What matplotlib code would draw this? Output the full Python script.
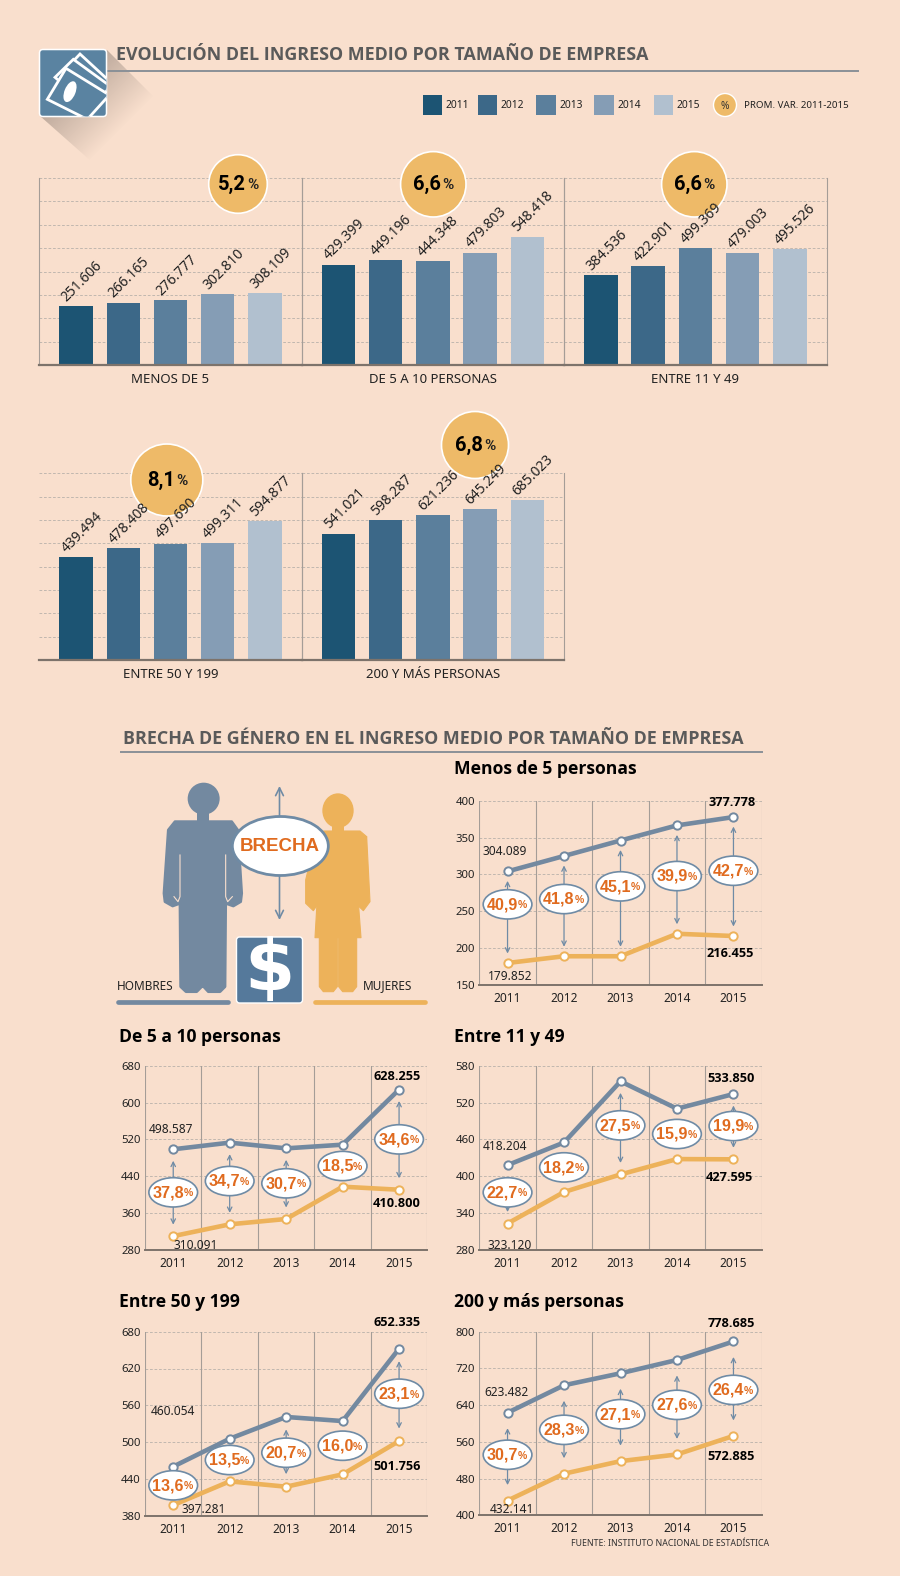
import numpy as np
import matplotlib
matplotlib.use('Agg')
from matplotlib import pyplot as plt
from matplotlib.patches import Circle, Ellipse, FancyBboxPatch, Polygon, Rectangle

W, H = 900, 1576
BG = '#f9dfcd'
BAR_COLORS = ['#1c5473', '#3c6888', '#5b7f9c', '#859db5', '#b1c0cf']
MEN = '#7389a0'
WOMEN = '#edb25a'
ORANGE = '#e06b1f'
GOLD = '#eeba68'
GRID = '#bdb4ad'
FRAME = '#a59d97'
BASE = '#7d736b'
ARROW = '#6f8ba5'
TITLE = '#5a5a5a'
SANS = ['Noto Sans', 'DejaVu Sans']
HEAD = ['Open Sans', 'DejaVu Sans']
DIGITS = ['Roboto', 'DejaVu Sans']
HEAVY = ['Liberation Sans', 'DejaVu Sans']

YEARS = ['2011', '2012', '2013', '2014', '2015']

# bar charts, thousands
bar_names = ['MENOS DE 5', 'DE 5 A 10 PERSONAS', 'ENTRE 11 Y 49', 'ENTRE 50 Y 199', '200 Y MÁS PERSONAS']
menos5 = [251.606, 266.165, 276.777, 302.810, 308.109]
de5a10 = [429.399, 449.196, 444.348, 479.803, 548.418]
de11a49 = [384.536, 422.901, 499.369, 479.003, 495.526]
de50a199 = [439.494, 478.408, 497.690, 499.311, 594.877]
mas200 = [541.021, 598.287, 621.236, 645.249, 685.023]
bar_series = [menos5, de5a10, de11a49, de50a199, mas200]
avg_var = ['5,2', '6,6', '6,6', '8,1', '6,8']

men_menos5 = [304.089, 325, 346, 366.5, 377.778]
women_menos5 = [179.852, 189, 189, 219.5, 216.455]
gap_menos5 = ['40,9', '41,8', '45,1', '39,9', '42,7']
men_5a10 = [498.587, 513, 500.6, 508.6, 628.255]
women_5a10 = [310.091, 335.7, 347.3, 417.4, 410.800]
gap_5a10 = ['37,8', '34,7', '30,7', '18,5', '34,6']
men_11a49 = [418.204, 455, 554.5, 510, 533.850]
women_11a49 = [323.120, 374.4, 403, 428, 427.595]
gap_11a49 = ['22,7', '18,2', '27,5', '15,9', '19,9']
men_50a199 = [460.054, 505.5, 541, 534.3, 652.335]
women_50a199 = [397.281, 436, 427.3, 447.4, 501.756]
gap_50a199 = ['13,6', '13,5', '20,7', '16,0', '23,1']
men_200 = [623.482, 683.3, 709.4, 738.4, 778.685]
women_200 = [432.141, 490.6, 518, 532.6, 572.885]
gap_200 = ['30,7', '28,3', '27,1', '27,6', '26,4']

ticks_menos5 = [150, 200, 250, 300, 350, 400]
ticks_5a10 = [280, 360, 440, 520, 600, 680]
ticks_11a49 = [280, 340, 400, 460, 520, 580]
ticks_50a199 = [380, 440, 500, 560, 620, 680]
ticks_200 = [400, 480, 560, 640, 720, 800]

# layout of the small multiples: name, box (left, top, right, bottom in px)
LINE_PANELS = [
    dict(name='Menos de 5 personas', title_xy=(454, 769), box=(479.3, 800.7, 761.7, 985),
         men=men_menos5, women=women_menos5, gaps=gap_menos5, ticks=ticks_menos5,
         oval_y=[259.4, 266.6, 283.8, 297.8, 305], arrows=[1, 1, 1, 1, 1], shrink=6,
         offs=[(-2.7, -20), (3, 13.3), (-1, -15), (-3.7, 17)]),
    dict(name='De 5 a 10 personas', title_xy=(119, 1037), box=(145, 1065.7, 427.3, 1250),
         men=men_5a10, women=women_5a10, gaps=gap_5a10, ticks=ticks_5a10,
         oval_y=[405.1, 429.7, 424.7, 462.3, 520.1], arrows=[1, 1, 1, 0, 1], shrink=8,
         offs=[(-2, -19.7), (22.3, 9), (-2.3, -13.3), (-2.3, 14)]),
    dict(name='Entre 11 y 49', title_xy=(454, 1037), box=(479.3, 1065.7, 761.7, 1250),
         men=men_11a49, women=women_11a49, gaps=gap_11a49, ticks=ticks_11a49,
         oval_y=[373.8, 414.5, 482.9, 468.8, 481.8], arrows=[1, 0, 1, 0, 1], shrink=8,
         offs=[(-2.7, -18.3), (2.3, 22), (-2, -15.7), (-3.7, 18.3)]),
    dict(name='Entre 50 y 199', title_xy=(119, 1302), box=(145, 1331.7, 427.3, 1515.7),
         men=men_50a199, women=women_50a199, gaps=gap_50a199, ticks=ticks_50a199,
         oval_y=[429.5, 470.8, 482.7, 494.1, 578.9], arrows=[0, 0, 1, 0, 1], shrink=9,
         offs=[(0, -55), (30, 4), (-2.3, -25.7), (-1.7, 25.3)]),
    dict(name='200 y más personas', title_xy=(454, 1302), box=(479.3, 1331.7, 761.7, 1515.3),
         men=men_200, women=women_200, gaps=gap_200, ticks=ticks_200,
         oval_y=[531.9, 586.2, 620.3, 640.6, 673.2], arrows=[1, 1, 1, 1, 1], shrink=12,
         offs=[(-1, -20.7), (4.3, 9.3), (-2, -18.3), (-2, 20.7)]),
]

BAR_BOXES = [(39.3, 178, 301.7, 365), (301.7, 178, 564, 365), (564, 178, 826.7, 365),
             (39.3, 473.3, 301.7, 660), (301.7, 473.3, 564, 660)]
BAR_LABEL_X = [170.3, 432.8, 695, 170.4, 432.8]
BAR_LABEL_Y = [379, 379, 379, 674.3, 674.3]
CIRCLES = [(238, 184, 29.3), (433.3, 184.3, 32.7), (694.3, 184.3, 32.7), (166.8, 480, 36), (475, 445, 33.5)]


def px_axes(fig, box, zorder):
    left, top, right, bottom = box
    ax = fig.add_axes([left / W, 1 - bottom / H, (right - left) / W, (bottom - top) / H], zorder=zorder)
    ax.patch.set_alpha(0)
    return ax


def hide_spines(ax):
    for s in ax.spines.values():
        s.set_visible(False)


def draw_bars(ax, values, left_frame):
    x = np.arange(5)
    ax.set_xlim(-0.78, 4.78)
    ax.set_ylim(0, 800)
    hide_spines(ax)
    ax.set_xticks([])
    ax.set_yticks(np.arange(100, 801, 100))
    ax.tick_params(left=False, labelleft=False)
    ax.grid(axis='y', color=GRID, lw=0.65, ls=(0, (3, 2)))
    ax.set_axisbelow(True)
    ax.bar(x, values, width=0.706, color=BAR_COLORS, zorder=2)
    ax.spines['bottom'].set_visible(True)
    ax.spines['bottom'].set_color(BASE)
    ax.spines['bottom'].set_linewidth(1.6)
    ax.spines['right'].set_visible(True)
    ax.spines['right'].set_color(FRAME)
    ax.spines['right'].set_linewidth(0.8)
    if left_frame:
        ax.spines['left'].set_visible(True)
        ax.spines['left'].set_color(FRAME)
        ax.spines['left'].set_linewidth(0.8)


def draw_lines(ax, p):
    x = np.arange(5)
    ticks = p['ticks']
    ax.set_xlim(-0.5, 4.5)
    ax.set_ylim(ticks[0], ticks[-1])
    hide_spines(ax)
    ax.set_xticks(x)
    ax.set_xticklabels(YEARS, fontsize=8.6, family=SANS, color='#222222')
    ax.set_yticks(ticks)
    ax.set_yticklabels([str(t) for t in ticks], fontsize=8.2, family=SANS, color='#222222')
    ax.tick_params(length=0, pad=3)
    ax.tick_params(axis='x', pad=5)
    ax.grid(axis='y', color=GRID, lw=0.65, ls=(0, (3, 2)))
    for v in [-0.5, 0.5, 1.5, 2.5, 3.5, 4.5]:
        ax.axvline(v, color=FRAME, lw=0.8, zorder=1)
    ax.set_axisbelow(True)
    ax.spines['bottom'].set_visible(True)
    ax.spines['bottom'].set_color(BASE)
    ax.spines['bottom'].set_linewidth(1.4)

    ax.plot(x, p['men'], color=MEN, lw=3.3, marker='o', ms=6, mfc='white', mew=1.4, zorder=3, clip_on=False)
    ax.plot(x, p['women'], color=WOMEN, lw=3.3, marker='o', ms=6, mfc='white', mew=1.4, zorder=3, clip_on=False)

    ox_w = 48.7 * 5 / (p['box'][2] - p['box'][0])
    ox_h = 29.3 * (ticks[-1] - ticks[0]) / (p['box'][3] - p['box'][1])
    sh = p['shrink'] * 0.72 + 2.5
    for i in x:
        if p['arrows'][i]:
            ax.annotate('', xy=(i, p['women'][i]), xytext=(i, p['men'][i]),
                        arrowprops=dict(arrowstyle='<->', color=ARROW, lw=0.9, mutation_scale=8,
                                        shrinkA=sh, shrinkB=sh), zorder=4)
        oy = p['oval_y'][i]
        ax.add_patch(Ellipse((i, oy), ox_w, ox_h, fc='white', ec=ARROW, lw=1.2, zorder=5, clip_on=False))
        ax.annotate(p['gaps'][i], xy=(i, oy), xytext=(7.6, -0.3), textcoords='offset points', ha='right',
                    va='center', family=HEAVY, weight='bold', fontsize=11.6, color=ORANGE, zorder=6)
        ax.annotate('%', xy=(i, oy), xytext=(7.6, -0.6), textcoords='offset points', ha='left',
                    va='center', family=HEAVY, weight='bold', fontsize=7.5, color=ORANGE, zorder=6)

    men0, wom0, men1, wom1 = p['offs']
    fmt = lambda v: '{:.3f}'.format(v)
    for xi, v, off, bold in [(0, p['men'][0], men0, False), (0, p['women'][0], wom0, False),
                             (4, p['men'][4], men1, True), (4, p['women'][4], wom1, True)]:
        ax.annotate(fmt(v), xy=(xi, v), xytext=(off[0] * 0.72, -off[1] * 0.72), textcoords='offset points',
                    ha='center', va='center', family=HEAD if bold else SANS, fontsize=9.2 if bold else 8.6,
                    weight='bold' if bold else 'normal', color='black' if bold else '#222222',
                    zorder=7, annotation_clip=False)
    tx, ty = p['title_xy']
    return tx, ty


def z3(points, ox=100, oy=720):
    return [(ox + a / 3, oy + b / 3) for a, b in points]


def draw_money_icon(ax):
    # long shadow fading along the diagonal
    xx, yy = np.meshgrid(np.linspace(40, 165, 160), np.linspace(45, 170, 160))
    s = xx + yy
    rgba = np.zeros(xx.shape + (4,))
    rgba[..., :3] = (0.45, 0.40, 0.37)
    rgba[..., 3] = np.clip(0.44 * (1 - (s - 156) / 95), 0, 1)
    im = ax.imshow(rgba, extent=(40, 165, 170, 45), aspect='auto', zorder=1, interpolation='bilinear')
    clip = Polygon([(107, 50), (155, 98), (92, 162), (40, 116)], transform=ax.transData, fc='none', ec='none')
    ax.add_patch(clip)
    im.set_clip_path(clip)

    box = FancyBboxPatch((39.5, 49.5), 67, 67, boxstyle='round,pad=0,rounding_size=3.5', fc='#5a83a1', ec='white',
                         lw=1.1, zorder=2)
    ax.add_patch(box)
    notes = [[(95, 100), (150, 42), (240, 125), (190, 200)],
             [(75, 112), (130, 58), (240, 138), (190, 210)],
             [(52, 178), (108, 85), (238, 165), (172, 238)]]
    for pts in notes:
        pts = [(30 + a / 3, 40 + b / 3) for a, b in pts]
        pg = Polygon(pts, closed=True, fc='#5a83a1', ec='white', lw=2.0, zorder=3, joinstyle='miter')
        ax.add_patch(pg)
        pg.set_clip_path(box)
    ax.add_patch(Ellipse((30 + 120 / 3, 40 + 155 / 3), 11, 22, angle=22, fc='white', ec='none', zorder=4))


def draw_people(ax):
    man = [(205, 330), (225, 305), (395, 305), (413, 330), (425, 520), (422, 545), (400, 558), (377, 550),
           (375, 800), (360, 815), (325, 815), (311, 800), (308, 558), (305, 800), (290, 815), (258, 815),
           (242, 800), (240, 550), (218, 558), (195, 545), (192, 520)]
    ax.add_patch(Polygon(z3(man), fc=MEN, ec=MEN, lw=2.0, joinstyle='round', zorder=2))
    ax.add_patch(Rectangle((100 + 290 / 3, 720 + 270 / 3), 38 / 3, 40 / 3, fc=MEN, ec='none', zorder=2))
    ax.add_patch(Circle((100 + 311 / 3, 720 + 236 / 3), 48 / 3, fc=MEN, ec='none', zorder=2))
    for seg in ([(240, 405), (240, 530), (234, 545), (222, 530)], [(377, 405), (377, 530), (383, 545), (397, 530)]):
        xy = np.array(z3(seg))
        ax.plot(xy[:, 0], xy[:, 1], color=BG, lw=0.8, zorder=3)

    parts = [[(650, 340), (672, 333), (780, 333), (800, 350), (770, 480), (655, 480)],
             [(665, 400), (765, 400), (770, 480), (783, 653), (645, 653), (655, 480)],
             [(650, 340), (617, 480), (617, 550), (640, 572), (652, 555), (658, 500), (668, 440)],
             [(800, 350), (810, 545), (790, 572), (772, 555), (770, 490), (762, 440)],
             [(658, 653), (712, 653), (712, 800), (700, 815), (670, 815), (658, 800)],
             [(716, 653), (770, 653), (770, 800), (758, 815), (728, 815), (716, 800)]]
    for pts in parts:
        ax.add_patch(Polygon(z3(pts), fc=WOMEN, ec=WOMEN, lw=0.8, joinstyle='round', zorder=2))
    ax.add_patch(Rectangle((100 + 695 / 3, 720 + 315 / 3), 38 / 3, 25 / 3, fc=WOMEN, ec='none', zorder=2))
    ax.add_patch(Ellipse((100 + 714 / 3, 720 + 272 / 3), 94 / 3, 104 / 3, fc=WOMEN, ec='none', zorder=2))

    # gap arrows and oval
    ax.annotate('', xy=(279.5, 786), xytext=(279.5, 920), arrowprops=dict(arrowstyle='<->', color=ARROW, lw=1.2,
                mutation_scale=14, shrinkA=0, shrinkB=0), zorder=3)
    ax.add_patch(Ellipse((100 + 541 / 3, 720 + 378 / 3), 96, 59, fc='white', ec=ARROW, lw=2.0, zorder=4))
    ax.text(100 + 539 / 3, 720 + 380 / 3, 'BRECHA', ha='center', va='center', family=HEAVY, weight='bold',
            fontsize=13.5, color=ORANGE, zorder=5)

    ax.add_patch(FancyBboxPatch((236.5, 937), 66, 66, boxstyle='round,pad=0,rounding_size=3', fc='#55799b', ec='white',
                                lw=1, zorder=3))
    ax.text(269.5, 970, '$', ha='center', va='center', family='DejaVu Sans', weight='bold', fontsize=52, color='white', zorder=4)

    ax.text(100 + 50 / 3, 720 + 798 / 3, 'HOMBRES', ha='left', va='center', family=SANS, fontsize=8.5, color='#222222', zorder=4)
    ax.text(100 + 790 / 3, 720 + 798 / 3, 'MUJERES', ha='left', va='center', family=SANS, fontsize=8.5, color='#222222', zorder=4)
    ax.plot([118, 228], [1002.3, 1002.3], color=MEN, lw=3.4, solid_capstyle='round', zorder=2)
    ax.plot([315, 425], [1002.3, 1002.3], color=WOMEN, lw=3.4, solid_capstyle='round', zorder=2)


def pct_text(ax, cx, cy, value):
    ax.text(cx + 8, cy, value, ha='right', va='center', family=DIGITS, weight='bold', fontsize=14.5, color='black', zorder=3)
    ax.text(cx + 9, cy + 1, '%', ha='left', va='center', family=DIGITS, weight='bold', fontsize=11, color='#222222', zorder=3)


def main():
    fig = plt.figure(figsize=(W / 100, H / 100), dpi=100, facecolor=BG)

    back = fig.add_axes([0, 0, 1, 1], zorder=0)
    back.set_xlim(0, W)
    back.set_ylim(H, 0)
    back.axis('off')

    top = fig.add_axes([0, 0, 1, 1], zorder=8)
    top.set_xlim(0, W)
    top.set_ylim(H, 0)
    top.axis('off')
    top.patch.set_alpha(0)

    # headings
    draw_money_icon(back)
    back.set_xlim(0, W)
    back.set_ylim(H, 0)
    back.text(116.5, 54.5, 'EVOLUCIÓN DEL INGRESO MEDIO POR TAMAÑO DE EMPRESA', ha='left', va='center',
              family=HEAD, weight='bold', fontsize=12.9, color=TITLE)
    back.plot([106, 858], [71.3, 71.3], color='#8a9097', lw=1.4, zorder=1)
    back.text(122.7, 739, 'BRECHA DE GÉNERO EN EL INGRESO MEDIO POR TAMAÑO DE EMPRESA', ha='left', va='center',
              family=HEAD, weight='bold', fontsize=12.9, color=TITLE)
    back.plot([120.7, 762], [752.3, 752.3], color='#8a9097', lw=1.4)

    # legend
    for x0, c, label in zip([422.7, 477.7, 536, 594, 653.7], BAR_COLORS, YEARS):
        back.add_patch(Rectangle((x0, 95), 19.5, 19.5, fc=c, ec='none'))
        back.text(x0 + 23, 105, label, ha='left', va='center', family=SANS, fontsize=7.4, color='#222222')
    back.add_patch(Circle((725, 105), 11.5, fc=GOLD, ec='white', lw=1))
    back.text(725, 106, '%', ha='center', va='center', family=SANS, fontsize=7.4, color='#333333')
    back.text(744, 105, 'PROM. VAR. 2011-2015', ha='left', va='center', family=SANS, fontsize=7.0, color='#222222')

    # bars
    for i, (values, box) in enumerate(zip(bar_series, BAR_BOXES)):
        ax = px_axes(fig, box, 3)
        draw_bars(ax, values, left_frame=i in (0, 1, 2, 4))
        for j, v in enumerate(values):
            top.annotate('{:.3f}'.format(v), xy=(j, v), xycoords=ax.transData, xytext=(4.3, 18),
                         textcoords='offset points', ha='center', va='center', rotation=45,
                         rotation_mode='anchor', family=SANS, fontsize=10, color='#222222', zorder=4)
        back.text(BAR_LABEL_X[i], BAR_LABEL_Y[i], bar_names[i], ha='center', va='center', family=SANS,
                  fontsize=9.5, color='#222222')
        cx, cy, r = CIRCLES[i]
        top.add_patch(Circle((cx, cy), r, fc=GOLD, ec='white', lw=1.2, zorder=2))
        pct_text(top, cx, cy, avg_var[i])

    # gender gap
    draw_people(back)
    for p in LINE_PANELS:
        ax = px_axes(fig, p['box'], 3)
        tx, ty = draw_lines(ax, p)
        back.text(tx, ty, p['name'], ha='left', va='center', family=HEAD, weight='bold', fontsize=12.6, color='black')

    back.text(571, 1543, 'FUENTE: INSTITUTO NACIONAL DE ESTADÍSTICA', ha='left', va='center', family=SANS,
              fontsize=6.3, color='#333333')

    fig.savefig('out.png', dpi=100, facecolor=BG)


if __name__ == '__main__':
    main()
